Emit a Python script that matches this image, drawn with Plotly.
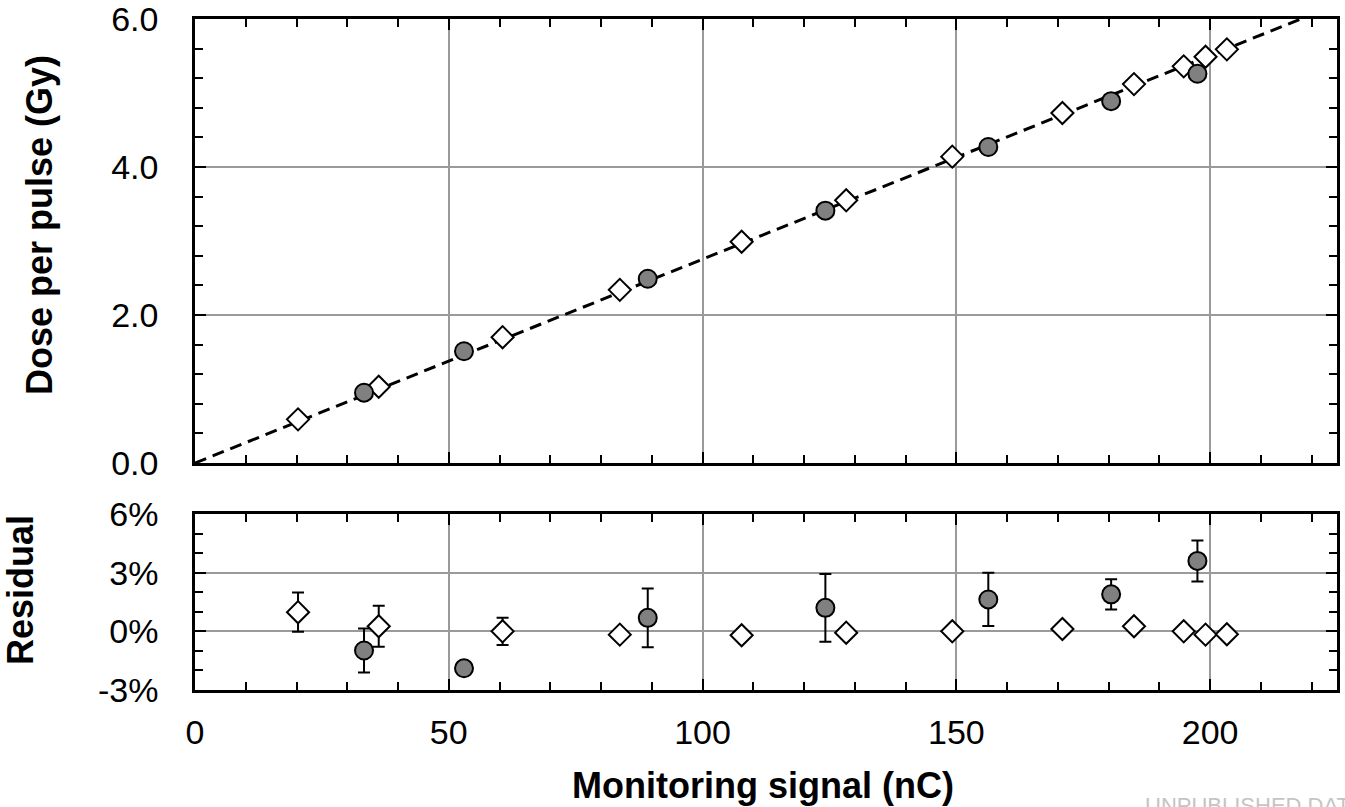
import plotly.graph_objects as go

# ---- data ----
diam_x = [20.3, 36.2, 60.6, 83.7, 107.7, 128.3, 149.2, 170.9, 185.0, 194.8, 199.1, 203.3]
diam_dose = [0.59, 1.03, 1.70, 2.34, 2.99, 3.55, 4.14, 4.73, 5.12, 5.36, 5.49, 5.59]
diam_res = [0.98, 0.26, 0.0, -0.17, -0.2, -0.07, 0.0, 0.12, 0.26, 0.0, -0.17, -0.15]
diam_err = [1.0, 1.05, 0.7, 0, 0, 0, 0, 0, 0, 0, 0, 0]

circ_x = [33.3, 53.0, 89.2, 124.2, 156.3, 180.5, 197.5]
circ_dose = [0.95, 1.51, 2.49, 3.41, 4.27, 4.89, 5.26]
circ_res = [-0.98, -1.89, 0.69, 1.2, 1.63, 1.89, 3.6]
circ_err = [1.13, 0, 1.5, 1.73, 1.36, 0.77, 1.05]

fit_slope = 0.02754  # Gy per nC
fit_x = [0, 225]
fit_y = [fit_slope * v for v in fit_x]

x_ticks = [0, 50, 100, 150, 200]
dose_ticks = [0, 2, 4, 6]
dose_ticktext = ["0.0", "2.0", "4.0", "6.0"]
res_ticks = [-3, 0, 3, 6]
res_ticktext = ["-3%", "0%", "3%", "6%"]

FONT = "Liberation Sans, Arial, sans-serif"

fig = go.Figure()

fig.add_trace(go.Scatter(x=fit_x, y=fit_y, mode="lines",
                         line=dict(color="black", width=3, dash="12px,7px"),
                         xaxis="x", yaxis="y", showlegend=False, cliponaxis=True))

marker_d = dict(symbol="diamond", size=17, color="white", line=dict(color="black", width=2))
marker_c = dict(symbol="circle", size=18, color="#808080", line=dict(color="black", width=2))

fig.add_trace(go.Scatter(x=diam_x, y=diam_dose, mode="markers", marker=marker_d,
                         xaxis="x", yaxis="y", showlegend=False))
fig.add_trace(go.Scatter(x=circ_x, y=circ_dose, mode="markers", marker=marker_c,
                         xaxis="x", yaxis="y", showlegend=False))

err_style = dict(type="data", visible=True, color="black", thickness=2, width=6)
fig.add_trace(go.Scatter(x=diam_x, y=diam_res, mode="markers", marker=marker_d,
                         error_y=dict(array=diam_err, **err_style),
                         xaxis="x2", yaxis="y2", showlegend=False))
fig.add_trace(go.Scatter(x=circ_x, y=circ_res, mode="markers", marker=marker_c,
                         error_y=dict(array=circ_err, **err_style),
                         xaxis="x2", yaxis="y2", showlegend=False))

TICKFONT = dict(family=FONT, size=34, color="black")
axis_common = dict(showline=True, linecolor="black", linewidth=2.5, mirror="allticks",
                   ticks="inside", ticklen=11, tickwidth=2, tickcolor="black",
                   showgrid=True, gridcolor="#9a9a9a", gridwidth=1.5, zeroline=False,
                   tickfont=TICKFONT, automargin=False, ticklabeloverflow="allow")
minor_common = dict(ticks="inside", ticklen=8, tickwidth=2, tickcolor="black", showgrid=False)

top_dom = [(690 - 463) / 671, 1.0]
bot_dom = [0.0, (690 - 514) / 671]

fig.update_layout(
    width=1345, height=807,
    margin=dict(l=195, r=8, t=19, b=117),
    paper_bgcolor="white", plot_bgcolor="white",
    font=dict(family=FONT, color="black"),
    xaxis=dict(range=[0, 225], domain=[0, 1], anchor="y", tickvals=x_ticks,
               showticklabels=False, minor=dict(dtick=10, **minor_common), **axis_common),
    yaxis=dict(range=[0, 6], domain=top_dom, anchor="x", tickvals=dose_ticks,
               ticktext=dose_ticktext, ticklabelstandoff=27,
               minor=dict(dtick=0.4, **minor_common), **axis_common),
    xaxis2=dict(range=[0, 225], domain=[0, 1], anchor="y2", tickvals=x_ticks,
                ticklabelstandoff=10, minor=dict(dtick=10, **minor_common), **axis_common),
    yaxis2=dict(range=[-3, 6], domain=bot_dom, anchor="x2", tickvals=res_ticks,
                ticktext=res_ticktext, ticklabelstandoff=27,
                minor=dict(dtick=1, **minor_common), **axis_common),
)

def px_x(p):
    return (p - 195) / 1142

def px_y(p):
    return (690 - p) / 671

TITLE = dict(family=FONT, size=36, color="black")
fig.add_annotation(text="<b>Dose per pulse (Gy)</b>", xref="paper", yref="paper",
                   x=px_x(39), y=px_y(225), textangle=-90, showarrow=False, font=TITLE,
                   xanchor="center", yanchor="middle")
fig.add_annotation(text="<b>Residual</b>", xref="paper", yref="paper",
                   x=px_x(20), y=px_y(590), textangle=-90, showarrow=False, font=TITLE,
                   xanchor="center", yanchor="middle")
fig.add_annotation(text="<b>Monitoring signal (nC)</b>", xref="paper", yref="paper",
                   x=px_x(763), y=px_y(785), showarrow=False, font=TITLE,
                   xanchor="center", yanchor="middle")
fig.add_annotation(text="UNPUBLISHED DATA", xref="paper", yref="paper",
                   x=px_x(1143), y=px_y(805), showarrow=False,
                   font=dict(family=FONT, size=22, color="#c4c4c4"),
                   xanchor="left", yanchor="middle")

fig.write_html("out.html", config={"displayModeBar": False},
               post_script="document.body.style.margin='0px';document.body.style.overflow='hidden';")
